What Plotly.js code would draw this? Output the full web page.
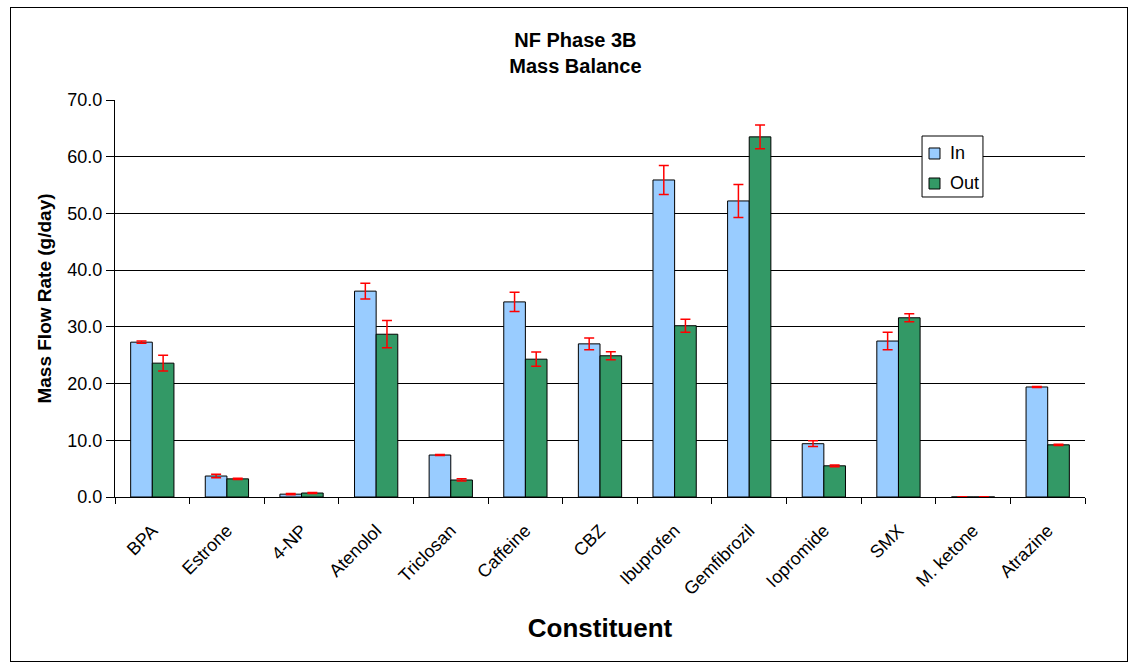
<!DOCTYPE html>
<html>
<head>
<meta charset="utf-8">
<script src="https://cdn.plot.ly/plotly-3.0.1.min.js"></script>
<style>
html,body{margin:0;padding:0;background:#fff;}
#wrap{position:relative;width:1135px;height:665px;}
#chart{position:absolute;left:0;top:0;width:1135px;height:665px;}
#frame{position:absolute;left:10px;top:7px;width:1116px;height:653px;border:1px solid #000;pointer-events:none;}
</style>
</head>
<body>
<div id="wrap"><div id="chart"></div><div id="frame"></div></div>
<script>
const categories = ["BPA","Estrone","4-NP","Atenolol","Triclosan","Caffeine","CBZ","Ibuprofen","Gemfibrozil","Iopromide","SMX","M. ketone","Atrazine"];
const inValues  = [27.3, 3.7, 0.5, 36.3, 7.4, 34.4, 27.0, 55.9, 52.2, 9.4, 27.5, 0.0, 19.4];
const inErrors  = [0.2, 0.3, 0.1, 1.4, 0.1, 1.7, 1.05, 2.55, 2.9, 0.5, 1.55, 0.05, 0.1];
const outValues = [23.6, 3.2, 0.7, 28.7, 3.0, 24.3, 24.9, 30.2, 63.5, 5.5, 31.6, 0.0, 9.2];
const outErrors = [1.4, 0.1, 0.1, 2.4, 0.2, 1.25, 0.7, 1.15, 2.1, 0.15, 0.7, 0.05, 0.1];
const seriesNames = ["In", "Out"];
const seriesColors = ["#99CCFF", "#339966"];

const font = "Liberation Sans, Arial, sans-serif";
const traces = [
  {type:"bar", name:seriesNames[0], x:categories, y:inValues,
   marker:{color:seriesColors[0], line:{color:"#000", width:1}},
   error_y:{type:"data", array:inErrors, visible:true, color:"#FF0000", thickness:1.5, width:5}},
  {type:"bar", name:seriesNames[1], x:categories, y:outValues,
   marker:{color:seriesColors[1], line:{color:"#000", width:1}},
   error_y:{type:"data", array:outErrors, visible:true, color:"#FF0000", thickness:1.5, width:5}}
];

// custom legend (Excel-style compact box)
const lg = {x0:0.8320, x1:0.8948, y0:0.7557, y1:0.9093};
const shapes = [
  {type:"rect", xref:"paper", yref:"paper", x0:lg.x0, x1:lg.x1, y0:lg.y0, y1:lg.y1,
   fillcolor:"#fff", line:{color:"#000", width:1}, layer:"above"},
  {type:"rect", xref:"paper", yref:"paper", x0:0.8392, x1:0.8505, y0:0.8514, y1:0.8791,
   fillcolor:seriesColors[0], line:{color:"#000", width:1}, layer:"above"},
  {type:"rect", xref:"paper", yref:"paper", x0:0.8392, x1:0.8505, y0:0.7758, y1:0.8035,
   fillcolor:seriesColors[1], line:{color:"#000", width:1}, layer:"above"}
];
const annotations = [
  {xref:"paper", yref:"paper", x:0.8588, y:0.8665, xanchor:"left", yanchor:"middle", showarrow:false,
   text:seriesNames[0], font:{size:18, family:font, color:"#000"}},
  {xref:"paper", yref:"paper", x:0.8588, y:0.7909, xanchor:"left", yanchor:"middle", showarrow:false,
   text:seriesNames[1], font:{size:18, family:font, color:"#000"}}
];

const layout = {
  width:1135, height:665,
  margin:{l:115, r:50, t:100, b:168},
  paper_bgcolor:"#fff", plot_bgcolor:"#fff",
  font:{family:font, color:"#000"},
  barmode:"group", bargap:0.42, bargroupgap:0,
  showlegend:false,
  title:{text:"<b>NF Phase 3B</b><br><b>Mass Balance</b>", xref:"container", x:0.507, xanchor:"center",
         yref:"container", y:(665-47)/665, yanchor:"middle", font:{size:20, family:font}},
  xaxis:{
    tickangle:-45, tickfont:{size:18, family:font}, ticks:"outside", ticklen:6, tickcolor:"#000",
    ticklabelstandoff:15,
    tickson:"boundaries", showline:true, linecolor:"#000", linewidth:1,
    title:{text:"<b>Constituent</b>", font:{size:26, family:font}, standoff:20}
  },
  yaxis:{
    range:[0,70], dtick:10, tickformat:".1f", tickfont:{size:18, family:font},
    ticks:"outside", ticklen:8, tickcolor:"#000", showline:true, linecolor:"#000", linewidth:1,
    showgrid:true, gridcolor:"#000", gridwidth:1, zeroline:false,
    title:{text:"<b>Mass Flow Rate (g/day)</b>", font:{size:19, family:font}, standoff:10}
  },
  shapes:shapes,
  annotations:annotations
};
Plotly.newPlot("chart", traces, layout, {displayModeBar:false, staticPlot:true});
</script>
</body>
</html>
